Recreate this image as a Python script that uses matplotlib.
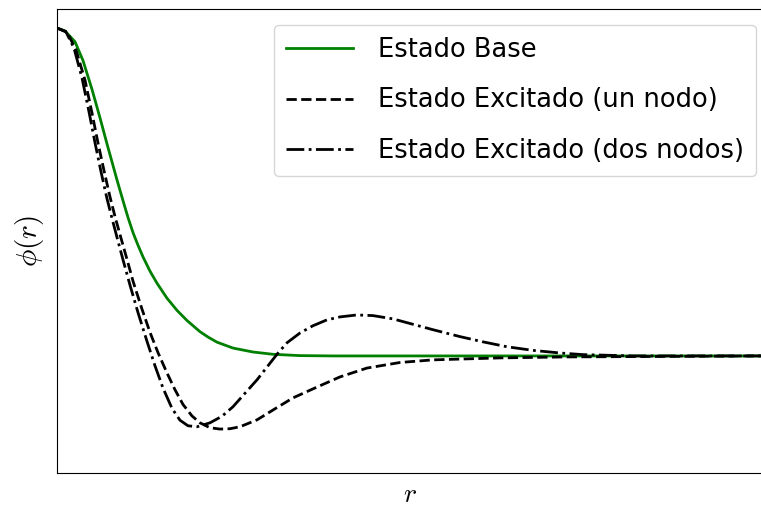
import matplotlib
matplotlib.use("Agg")
import matplotlib.pyplot as plt

plt.rcParams["mathtext.fontset"] = "cm"

# puntos (r, phi)
r_base = [0.0, 0.114, 0.256, 0.369, 0.497, 0.611, 0.710, 0.852, 0.952, 1.009, 1.080, 1.150,
          1.222, 1.320, 1.420, 1.563, 1.705, 1.847, 2.031, 2.150, 2.273, 2.500, 2.784, 3.068,
          3.45, 3.92, 10.0]
phi_base = [1.000, 0.991, 0.958, 0.901, 0.813, 0.726, 0.647, 0.537, 0.463, 0.422, 0.376, 0.338,
            0.302, 0.259, 0.222, 0.176, 0.139, 0.108, 0.074, 0.057, 0.042, 0.024, 0.012, 0.005,
            0.001, 0.0, 0.0]

r_uno = [0.0, 0.142, 0.270, 0.398, 0.497, 0.582, 0.668, 0.753, 0.824, 0.895, 0.994, 1.080,
         1.207, 1.321, 1.435, 1.563, 1.676, 1.790, 1.918, 2.031, 2.173, 2.315, 2.457, 2.599,
         2.841, 3.068, 3.352, 3.693, 4.020, 4.403, 4.872, 5.341, 6.293, 7.244, 10.0]
phi_uno = [1.000, 0.988, 0.933, 0.841, 0.741, 0.650, 0.565, 0.485, 0.425, 0.370, 0.295, 0.228,
           0.143, 0.072, 0.010, -0.052, -0.103, -0.148, -0.183, -0.204, -0.219, -0.223, -0.222,
           -0.216, -0.195, -0.165, -0.128, -0.095, -0.064, -0.037, -0.020, -0.012, -0.006,
           -0.003, 0.0]

r_dos = [0.0, 0.128, 0.241, 0.355, 0.455, 0.540, 0.625, 0.710, 0.781, 0.852, 0.938, 1.037,
         1.151, 1.278, 1.392, 1.506, 1.634, 1.747, 1.861, 1.989, 2.173, 2.344, 2.500, 2.670,
         2.841, 2.983, 3.125, 3.267, 3.452, 3.636, 3.835, 4.020, 4.261, 4.489, 4.773, 5.341,
         5.724, 6.051, 6.392, 6.761, 7.145, 7.472, 8.182, 10.0]
phi_dos = [1.000, 0.988, 0.939, 0.848, 0.744, 0.650, 0.562, 0.480, 0.420, 0.362, 0.293, 0.216,
           0.132, 0.045, -0.030, -0.098, -0.160, -0.196, -0.213, -0.216, -0.204, -0.184, -0.155,
           -0.114, -0.073, -0.034, 0.005, 0.040, 0.070, 0.092, 0.110, 0.119, 0.125, 0.123, 0.113,
           0.080, 0.059, 0.043, 0.028, 0.017, 0.009, 0.004, 0.0, 0.0]

labels = ["Estado Base", "Estado Excitado (un nodo)", "Estado Excitado (dos nodos)"]

fig = plt.figure(figsize=(7.61, 5.11), dpi=100)
ax = fig.add_axes([57 / 761, 38 / 511, 706 / 761, 464 / 511])

ax.plot(r_base, phi_base, color="green", lw=2, label=labels[0])
ax.plot(r_uno, phi_uno, color="black", lw=2, ls="--", label=labels[1])
ax.plot(r_dos, phi_dos, color="black", lw=2, ls="-.", label=labels[2])

ax.set_xlim(0, 10.03)
ax.set_ylim(-0.357, 1.058)
ax.set_xticks([])
ax.set_yticks([])

ax.set_xlabel(r"$r$", fontsize=20, labelpad=5)
ax.set_ylabel(r"$\phi(r)$", fontsize=21, labelpad=8)

ax.legend(loc="upper right", fontsize=18.5, handlelength=2.6, handletextpad=1.0,
          labelspacing=0.97, borderpad=0.45, borderaxespad=0,
          bbox_to_anchor=(0.990, 0.9655))

fig.savefig("out.png", dpi=100)
